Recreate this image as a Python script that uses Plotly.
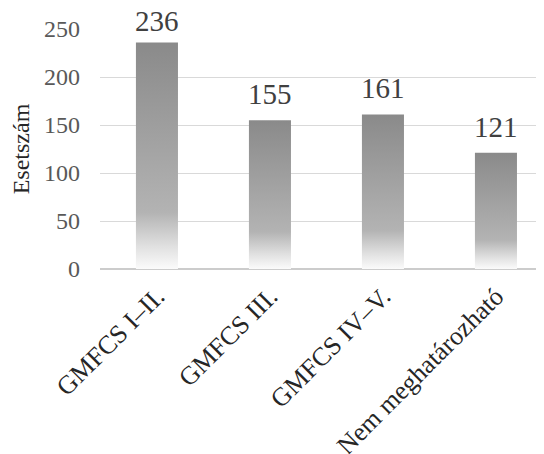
import plotly.graph_objects as go

categories = ["GMFCS I–II.", "GMFCS III.", "GMFCS IV–V.", "Nem meghatározható"]
values = [236, 155, 161, 121]
y_ticks = [0, 50, 100, 150, 200, 250]

FONT = "Liberation Serif"
half_w = 0.186
Y_MAX = 250
MARGIN_T, PLOT_H = 21, 240
LABEL_SIZE = 29

fig = go.Figure()
for i, (cat, v) in enumerate(zip(categories, values)):
    fig.add_trace(go.Scatter(
        x=[i - half_w, i + half_w, i + half_w, i - half_w, i - half_w],
        y=[0, 0, v, v, 0],
        mode="lines",
        line=dict(width=0, color="rgba(0,0,0,0)"),
        fill="toself",
        fillgradient=dict(
            type="vertical",
            colorscale=[[0, "#fbfbfb"], [0.1, "#e0e0e0"], [0.25, "#b3b3b3"], [1, "#8a8a8a"]],
        ),
        name=cat,
        hoverinfo="skip",
        showlegend=False,
    ))

# data labels: 8px above the bar, but kept inside the chart area (as Excel does)
for i, v in enumerate(values):
    bar_top_px = MARGIN_T + (Y_MAX - v) * PLOT_H / Y_MAX
    room = bar_top_px - LABEL_SIZE * 1.15 + 2
    fig.add_annotation(
        x=i, y=v, text=str(v), showarrow=False,
        yanchor="bottom", yshift=min(8, room),
        font=dict(family=FONT, size=LABEL_SIZE, color="#404040"),
    )

fig.update_layout(
    width=544, height=454,
    margin=dict(l=92, r=0, t=MARGIN_T, b=454 - MARGIN_T - PLOT_H, autoexpand=False),
    paper_bgcolor="white", plot_bgcolor="white",
    showlegend=False,
    font=dict(family=FONT, size=24, color="#595959"),
)
fig.update_xaxes(
    range=[-0.504, 3.496],
    tickvals=list(range(len(categories))),
    ticktext=categories,
    tickangle=-45,
    showgrid=False, zeroline=False, showline=False,
    ticks="", automargin=False,
    ticklabelstandoff=6,
    tickfont=dict(family=FONT, size=26, color="#262626"),
)
fig.update_yaxes(
    range=[0, Y_MAX],
    tickvals=y_ticks,
    showgrid=True, gridcolor="#d9d9d9", gridwidth=1,
    zeroline=True, zerolinecolor="#cccccc", zerolinewidth=1.5,
    showline=False, ticks="", automargin=False,
    ticklabelstandoff=19,
    tickfont=dict(family=FONT, size=24, color="#595959"),
    title=dict(text="Esetszám", font=dict(family=FONT, size=24, color="#262626"), standoff=8),
)

fig.write_html("out.html")
